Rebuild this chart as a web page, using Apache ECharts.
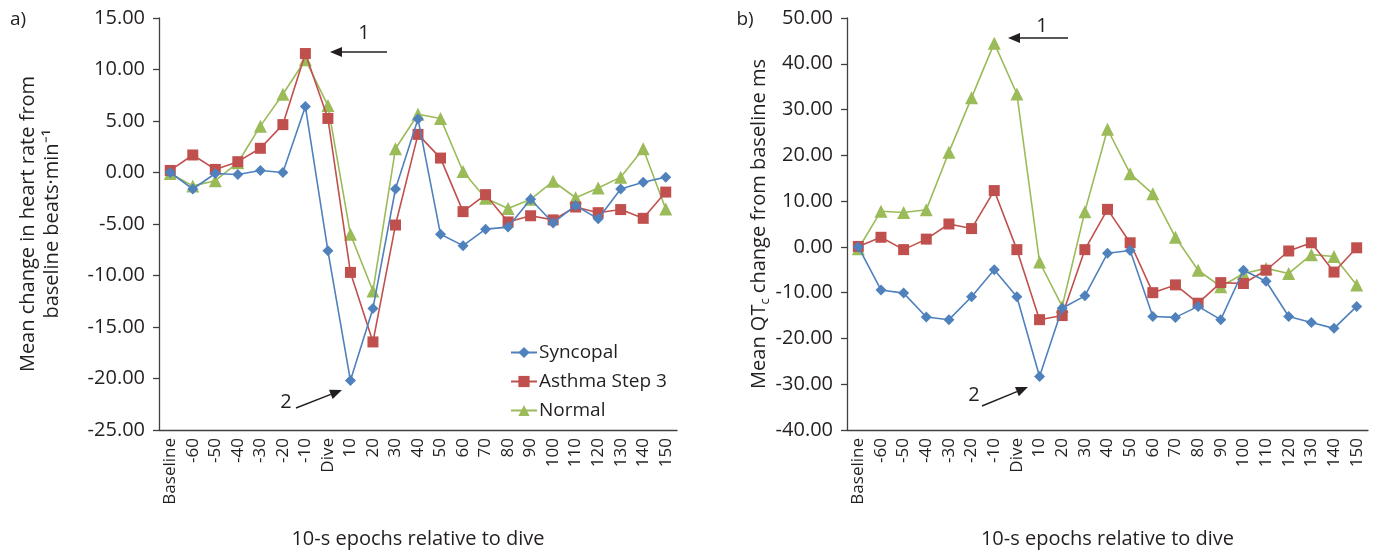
<!DOCTYPE html>
<html>
<head>
<meta charset="UTF-8">
<title>Dive epochs</title>
<script src="https://cdn.jsdelivr.net/npm/echarts@6/dist/echarts.min.js"></script>
<style>
  html, body { margin: 0; padding: 0; background: #fff; }
  #main { width: 1378px; height: 554px; }
</style>
</head>
<body>
<div id="main"></div>
<script>
// categories on the x axis (10-s epochs)
var epochs = ['Baseline', '-60', '-50', '-40', '-30', '-20', '-10', 'Dive', '10', '20', '30', '40', '50',
  '60', '70', '80', '90', '100', '110', '120', '130', '140', '150'];

// panel a) heart rate change, beats/min
var hrSyncopal = [0, -1.6, -0.1, -0.2, 0.2, 0, 6.4, -7.6, -20.2, -13.2, -1.6, 5.2, -6.0,
  -7.1, -5.5, -5.3, -2.6, -4.9, -3.2, -4.5, -1.6, -0.95, -0.45];
var hrAsthma = [0.2, 1.7, 0.3, 1.05, 2.35, 4.65, 11.55, 5.25, -9.7, -16.45, -5.1, 3.7, 1.4,
  -3.8, -2.15, -4.8, -4.2, -4.6, -3.35, -3.9, -3.6, -4.45, -1.9];
var hrNormal = [-0.1, -1.3, -0.8, 0.95, 4.5, 7.6, 10.95, 6.5, -6.0, -11.5, 2.3, 5.65, 5.25,
  0.1, -2.5, -3.5, -2.6, -0.85, -2.45, -1.5, -0.45, 2.3, -3.55];

// panel b) QTc change, ms
var qtSyncopal = [0, -9.4, -10.1, -15.3, -15.9, -10.9, -5.0, -10.9, -28.3, -13.4, -10.7, -1.4, -0.8,
  -15.2, -15.4, -13.0, -15.9, -5.1, -7.5, -15.2, -16.5, -17.8, -13.0];
var qtAsthma = [0.1, 2.1, -0.6, 1.7, 5.0, 4.0, 12.3, -0.6, -15.9, -15.0, -0.6, 8.2, 0.9,
  -10.0, -8.3, -12.3, -7.8, -8.0, -5.1, -0.9, 0.9, -5.5, -0.2];
var qtNormal = [-0.4, 7.8, 7.5, 8.1, 20.7, 32.6, 44.5, 33.4, -3.3, -13.0, 7.7, 25.7, 16.0,
  11.6, 2.1, -5.1, -8.7, -5.8, -4.7, -5.8, -1.7, -2.1, -8.3];

var seriesNames = ['Syncopal', 'Asthma Step 3', 'Normal'];
var colors = ['#4f81bd', '#c0504d', '#9bbb59'];
var symbols = ['diamond', 'rect', 'triangle'];
var symbolSizes = [11, 11, 13];

var font = '"Open Sans"';
var textColor = '#231f20';
var axisColor = '#404040';

function xAxisFor(idx) {
  return {
    type: 'category',
    gridIndex: idx,
    data: epochs,
    boundaryGap: true,
    name: '10-s epochs relative to dive',
    nameLocation: 'middle',
    nameGap: 99,
    nameTextStyle: { fontFamily: font, fontSize: 20, color: textColor },
    axisLine: { onZero: false, lineStyle: { color: axisColor, width: 1.3 } },
    axisTick: { alignWithLabel: true, length: 6, lineStyle: { color: axisColor, width: 1.3 } },
    axisLabel: { rotate: 90, interval: 0, margin: 8, fontFamily: font, fontSize: 17, color: textColor },
    splitLine: { show: false }
  };
}

function yAxisFor(idx, min, max, step, name, gap, rich) {
  return {
    type: 'value',
    gridIndex: idx,
    min: min,
    max: max,
    interval: step,
    name: name,
    nameLocation: 'middle',
    nameRotate: 90,
    nameGap: gap,
    nameTextStyle: { fontFamily: font, fontSize: 20, color: textColor, lineHeight: 24, rich: rich },
    axisLine: { show: true, lineStyle: { color: axisColor, width: 1.3 } },
    axisTick: { show: true, length: 6, lineStyle: { color: axisColor, width: 1.3 } },
    axisLabel: {
      margin: 14, fontFamily: font, fontSize: 20, color: textColor,
      formatter: function (v) { return v.toFixed(2); }
    },
    splitLine: { show: false }
  };
}

function lineSeries(i, data, gi) {
  return {
    name: seriesNames[i],
    type: 'line',
    xAxisIndex: gi,
    yAxisIndex: gi,
    data: data,
    symbol: symbols[i],
    symbolSize: symbolSizes[i],
    showAllSymbol: true,
    itemStyle: { color: colors[i] },
    lineStyle: { color: colors[i], width: 1.6 },
    z: 3 - i + 2,
    animation: false
  };
}

// small arrow drawn as graphic: line + head
function arrow(x1, y1, x2, y2) {
  var ang = Math.atan2(y2 - y1, x2 - x1);
  var hl = 12, hw = 5;
  var bx = x2 - hl * Math.cos(ang), by = y2 - hl * Math.sin(ang);
  var px = -Math.sin(ang) * hw, py = Math.cos(ang) * hw;
  return [
    { type: 'line', shape: { x1: x1, y1: y1, x2: bx, y2: by }, style: { stroke: '#231f20', lineWidth: 1.4 } },
    { type: 'polygon', shape: { points: [[x2, y2], [bx + px, by + py], [bx - px, by - py]] }, style: { fill: '#231f20' } }
  ];
}
function label(txt, x, y, size) {
  return { type: 'text', x: x, y: y, style: { text: txt, font: size + 'px ' + font, fill: textColor, textAlign: 'center', textVerticalAlign: 'middle' } };
}

var graphics = []
  .concat([label('a)', 18, 20, 19), label('b)', 745, 20, 19)])
  .concat(arrow(387, 52, 330, 52)).concat([label('1', 364, 33, 20)])
  .concat(arrow(296, 408, 342, 390)).concat([label('2', 286, 402, 20)])
  .concat(arrow(1068, 38, 1008, 38)).concat([label('1', 1042, 26, 20)])
  .concat(arrow(982, 406, 1028, 387)).concat([label('2', 974, 395, 20)]);

var chart = echarts.init(document.getElementById('main'), null, { renderer: 'canvas' });
chart.setOption({
  animation: false,
  backgroundColor: '#fff',
  textStyle: { fontFamily: font },
  grid: [
    { left: 159, top: 18, width: 518, height: 417 },
    { left: 847, top: 18, width: 521, height: 417 }
  ],
  legend: {
    data: seriesNames,
    orient: 'vertical',
    left: 505,
    top: 338,
    itemWidth: 26,
    itemHeight: 14,
    itemGap: 10,
    textStyle: { fontFamily: font, fontSize: 19, color: textColor, padding: [0, 0, 0, -3] }
  },
  xAxis: [xAxisFor(0), xAxisFor(1)],
  yAxis: [
    yAxisFor(0, -25, 15, 5, 'Mean change in heart rate from\nbaseline beats·min⁻¹', 95),
    yAxisFor(1, -40, 50, 10, 'Mean QT{sub|c} change from baseline ms', 75,
      { sub: { fontFamily: font, fontSize: 13, color: textColor, verticalAlign: 'bottom', padding: [6, 0, 0, 0] } })
  ],
  series: [
    lineSeries(0, hrSyncopal, 0),
    lineSeries(1, hrAsthma, 0),
    lineSeries(2, hrNormal, 0),
    lineSeries(0, qtSyncopal, 1),
    lineSeries(1, qtAsthma, 1),
    lineSeries(2, qtNormal, 1)
  ],
  graphic: graphics
});
</script>
</body>
</html>
